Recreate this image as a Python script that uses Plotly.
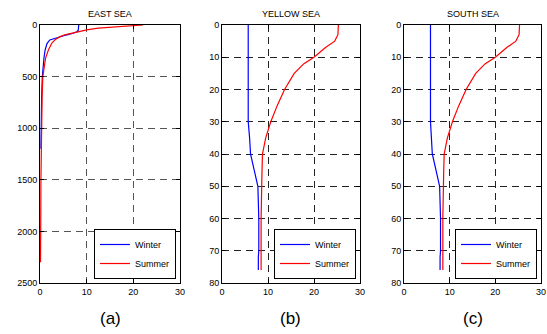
import plotly.graph_objects as go

# ---- data ----
east_winter_depth = [0, 30, 50, 65, 80, 95, 113, 130, 145, 180, 242, 320, 404, 500, 700, 900, 1100, 1200]
east_winter_temp = [8.3, 8.3, 8.2, 7.9, 7.1, 5.8, 4.3, 3.0, 2.1, 1.5, 1.1, 0.85, 0.7, 0.5, 0.35, 0.25, 0.2, 0.2]
east_summer_depth = [0, 8, 16, 30, 48, 65, 80, 95, 113, 140, 177, 242, 320, 404, 500, 700, 1000, 1500, 2000, 2300]
east_summer_temp = [22.1, 19.5, 15.6, 12.5, 10.0, 8.0, 6.4, 5.3, 4.3, 3.3, 2.5, 1.8, 1.2, 0.9, 0.6, 0.45, 0.3, 0.2, 0.15, 0.1]

yellow_winter_depth = [0, 10, 20, 30, 35, 40, 45, 50, 55, 60, 70, 72, 76]
yellow_winter_temp = [5.7, 5.7, 5.7, 5.7, 6.0, 6.2, 7.0, 7.8, 7.9, 8.0, 8.0, 7.9, 7.9]
yellow_summer_depth = [0, 3, 5, 7, 10, 12, 15, 20, 25, 30, 35, 40, 45, 50, 60, 76]
yellow_summer_temp = [25.3, 25.2, 24.5, 22.5, 20.0, 17.8, 15.7, 13.6, 12.0, 10.6, 9.5, 8.8, 8.7, 8.6, 8.5, 8.5]

south_winter_depth = [0, 10, 20, 30, 35, 40, 45, 50, 55, 60, 70, 72, 76]
south_winter_temp = [5.8, 5.8, 5.8, 5.8, 6.0, 6.2, 7.0, 7.8, 7.9, 8.0, 8.0, 7.9, 7.9]
south_summer_depth = [0, 3, 5, 7, 10, 12, 15, 20, 25, 30, 35, 40, 45, 50, 60, 76]
south_summer_temp = [25.3, 25.2, 24.5, 22.5, 20.0, 17.8, 15.7, 13.6, 12.0, 10.6, 9.5, 8.8, 8.7, 8.6, 8.5, 8.5]

titles = ["EAST SEA", "YELLOW SEA", "SOUTH SEA"]
panel_labels = ["(a)", "(b)", "(c)"]
series_names = ["Winter", "Summer"]

W, H = 547, 334
panels = [
    dict(x0=40, x1=180, yrange=[2500, 0], ytick=500, winter=(east_winter_temp, east_winter_depth),
         summer=(east_summer_temp, east_summer_depth), grid="#555555"),
    dict(x0=222, x1=360, yrange=[80, 0], ytick=10, winter=(yellow_winter_temp, yellow_winter_depth),
         summer=(yellow_summer_temp, yellow_summer_depth), grid="#222222"),
    dict(x0=404, x1=541, yrange=[80, 0], ytick=10, winter=(south_winter_temp, south_winter_depth),
         summer=(south_summer_temp, south_summer_depth), grid="#222222"),
]
top, bottom = 25, 283

fig = go.Figure()
layout = dict(template="none", width=W, height=H, margin=dict(l=0, r=0, t=0, b=0),
              plot_bgcolor="white", paper_bgcolor="white",
              font=dict(family="Liberation Sans, Arial", size=9, color="black"),
              annotations=[])

for i, p in enumerate(panels):
    sfx = "" if i == 0 else str(i + 1)
    xa, ya = "x" + sfx, "y" + sfx
    leg = "legend" if i == 0 else "legend" + str(i + 1)
    for (t, d), name, col in [(p["winter"], series_names[0], "blue"), (p["summer"], series_names[1], "red")]:
        fig.add_trace(go.Scatter(x=t, y=d, mode="lines", name=name, line=dict(color=col, width=1.2),
                                 xaxis=xa, yaxis=ya, legend=leg))
    axcommon = dict(showline=True, linecolor="black", linewidth=1, mirror="ticks", ticks="inside",
                    ticklen=4, tickcolor="black", showgrid=True, gridcolor=p["grid"], griddash="7px,5px",
                    gridwidth=1, zeroline=False, tickfont=dict(size=9, color="black"))
    layout["xaxis" + sfx] = dict(domain=[p["x0"] / W, p["x1"] / W], range=[0, 30], dtick=10,
                                 anchor=ya, **axcommon)
    layout["yaxis" + sfx] = dict(domain=[1 - bottom / H, 1 - top / H], range=p["yrange"],
                                 dtick=p["ytick"], anchor=xa, **axcommon)
    layout[leg] = dict(x=(p["x1"] - 4) / W, y=1 - 279 / H, xanchor="right", yanchor="bottom",
                       bgcolor="white", bordercolor="black", borderwidth=1,
                       font=dict(size=9, color="black"), tracegroupgap=0, itemwidth=30)
    cx = (p["x0"] + p["x1"]) / 2 / W
    layout["annotations"].append(dict(text=titles[i], x=cx, y=1 - 14 / H, xref="paper", yref="paper",
                                      yanchor="middle", xanchor="center",
                                      showarrow=False, font=dict(size=9, color="black")))
    layout["annotations"].append(dict(text=panel_labels[i], x=cx, y=1 - 318 / H, xref="paper", yref="paper",
                                      yanchor="middle", xanchor="center",
                                      showarrow=False, font=dict(size=17, color="black")))

fig.update_layout(**layout)
fig.write_html("out.html")
